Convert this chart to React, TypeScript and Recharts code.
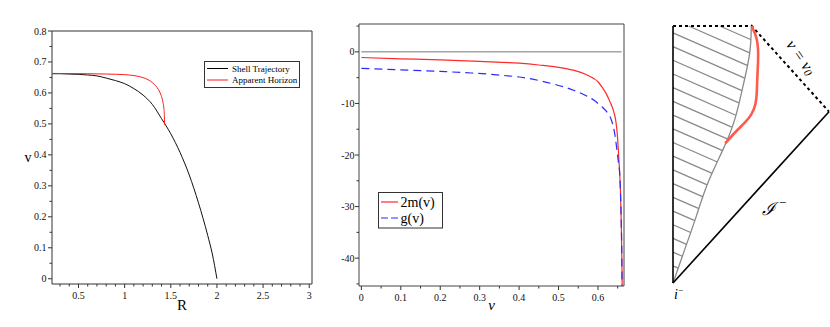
import React from "react";
import { LineChart, Line, XAxis, YAxis, ReferenceArea, ReferenceLine, ReferenceDot, Legend } from "recharts";

const SERIF = '"Liberation Serif", "Times New Roman", serif';

// left panel: shell trajectory and apparent horizon, v against R
const shellR = [0.213, 0.3, 0.4, 0.5, 0.6, 0.7, 0.8, 0.9, 1.0, 1.1, 1.2, 1.3, 1.4, 1.5, 1.6, 1.7, 1.8, 1.9, 1.95, 2.0];
const shellV = [0.662, 0.662, 0.661, 0.66, 0.658, 0.655, 0.648, 0.64, 0.63, 0.614, 0.593, 0.563, 0.517, 0.468, 0.408, 0.335, 0.245, 0.14, 0.08, 0.0];
const horizonR = [0.213, 0.6, 0.8, 1.0, 1.1, 1.17, 1.23, 1.28, 1.32, 1.35, 1.38, 1.4, 1.415, 1.425, 1.43, 1.433];
const horizonV = [0.663, 0.662, 0.661, 0.659, 0.656, 0.652, 0.646, 0.638, 0.628, 0.618, 0.603, 0.588, 0.57, 0.55, 0.53, 0.497];
const rTicks = [0.3, 0.4, 0.5, 0.6, 0.7, 0.8, 0.9, 1, 1.1, 1.2, 1.3, 1.4, 1.5, 1.6, 1.7, 1.8, 1.9, 2, 2.1, 2.2, 2.3, 2.4, 2.5, 2.6, 2.7, 2.8, 2.9, 3];
const rLabels = [0.5, 1, 1.5, 2, 2.5, 3];
const vTicks = [0, 0.05, 0.1, 0.15, 0.2, 0.25, 0.3, 0.35, 0.4, 0.45, 0.5, 0.55, 0.6, 0.65, 0.7, 0.75, 0.8];
const vLabels = [0, 0.1, 0.2, 0.3, 0.4, 0.5, 0.6, 0.7, 0.8];

// middle panel: 2m(v) and g(v)
const nuMass = [0, 0.1, 0.2, 0.3, 0.4, 0.45, 0.5, 0.54, 0.57, 0.59, 0.6, 0.61, 0.62, 0.63, 0.64, 0.645, 0.649, 0.652, 0.655, 0.657, 0.659, 0.6605, 0.6615];
const massVals = [-1.1, -1.35, -1.55, -1.85, -2.2, -2.55, -3.0, -3.6, -4.4, -5.2, -5.8, -6.8, -8.0, -9.6, -11.6, -13.3, -16, -19.5, -23.5, -27, -33, -40, -46];
const nuG = [0, 0.1, 0.2, 0.28, 0.35, 0.42, 0.48, 0.54, 0.57, 0.59, 0.6, 0.612, 0.624, 0.634, 0.639, 0.644, 0.648, 0.652, 0.655, 0.657, 0.659, 0.6605, 0.661];
const gVals = [-3.2, -3.5, -3.8, -4.1, -4.5, -5.1, -6.1, -7.5, -8.5, -9.4, -10.0, -10.8, -11.8, -13.2, -14.5, -16.6, -19, -21.5, -23.5, -27, -33, -40, -46];
const nuTicks = [0, 0.05, 0.1, 0.15, 0.2, 0.25, 0.3, 0.35, 0.4, 0.45, 0.5, 0.55, 0.6, 0.65];
const nuLabels = [0, 0.1, 0.2, 0.3, 0.4, 0.5, 0.6];
const yTicks2 = [5, 0, -5, -10, -15, -20, -25, -30, -35, -40, -45];
const yLabels2 = [0, -10, -20, -30, -40];

// right panel: Penrose diagram (null lines at 45 degrees in these units)
const shellX = [0, 0.075, 0.149, 0.224, 0.321, 0.396, 0.449, 0.492, 0.502, 0.505];
const shellY = [0, 0.195, 0.389, 0.585, 0.78, 0.955, 1.15, 1.345, 1.491, 1.5];
const ahX = [0.335, 0.396, 0.46, 0.502, 0.528, 0.537, 0.54, 0.545, 0.545, 0.534, 0.513, 0.505];
const ahY = [0.815, 0.877, 0.936, 0.984, 1.043, 1.111, 1.188, 1.287, 1.365, 1.433, 1.481, 1.5];
const hatchOffsets = [1.62, 1.54, 1.46, 1.38, 1.3, 1.22, 1.14, 1.06, 0.98, 0.9, 0.82, 0.74, 0.66, 0.58, 0.5, 0.42, 0.34, 0.26, 0.18, 0.1];
const HATCH_SLOPE = -0.4;

const shellData = shellR.map((R, i) => ({ R, v: shellV[i] }));
const horizonData = horizonR.map((R, i) => ({ R, v: horizonV[i] }));
const massData = nuMass.map((nu, i) => ({ nu, val: massVals[i] }));
const gData = nuG.map((nu, i) => ({ nu, val: gVals[i] }));
const penroseShell = shellX.map((x, i) => ({ x, y: shellY[i] }));
const penroseAH = ahX.map((x, i) => ({ x, y: ahY[i] }));

function hatchLine(y0: number) {
  const start = y0 > 1.5 ? { x: (1.5 - y0) / HATCH_SLOPE, y: 1.5 } : { x: 0, y: y0 };
  const f = (p: { x: number; y: number }) => p.y - (y0 + HATCH_SLOPE * p.x);
  for (let i = 0; i < penroseShell.length - 1; i++) {
    const a = penroseShell[i];
    const b = penroseShell[i + 1];
    const fa = f(a);
    const fb = f(b);
    if (fa <= 0 && fb > 0) {
      const t = fa / (fa - fb);
      const ex = a.x + t * (b.x - a.x);
      return [start, { x: ex, y: y0 + HATCH_SLOPE * ex }];
    }
  }
  return [start, start];
}

const isIn = (list: number[], v: number) => list.some((m) => Math.abs(m - v) < 1e-9);

function bottomTick(labels: number[]) {
  return (props: any) => {
    const { x, y, payload } = props;
    const major = isIn(labels, payload.value);
    return (
      <g>
        <line x1={x} x2={x} y1={y} y2={y + (major ? 4 : 2.5)} stroke="#333" />
        {major && (
          <text x={x} y={y + 15} textAnchor="middle" fontSize={10} fontFamily={SERIF} fill="#111">
            {String(payload.value)}
          </text>
        )}
      </g>
    );
  };
}

function leftTick(labels: number[], gap: number) {
  return (props: any) => {
    const { x, y, payload } = props;
    const major = isIn(labels, payload.value);
    return (
      <g>
        <line x1={x - (major ? 4 : 2.5)} x2={x} y1={y} y2={y} stroke="#333" />
        {major && (
          <text x={x - gap} y={y + 3.5} textAnchor="end" fontSize={10} fontFamily={SERIF} fill="#111">
            {String(payload.value)}
          </text>
        )}
      </g>
    );
  };
}

function TrajectoryLegend() {
  return (
    <svg width={96} height={27} style={{ display: "block" }}>
      <rect x={0.5} y={0.5} width={95} height={26} fill="#fff" stroke="#333" />
      <line x1={3} x2={24} y1={7.5} y2={7.5} stroke="#000" />
      <line x1={3} x2={24} y1={19} y2={19} stroke="#ff1a1a" />
      <text x={28} y={10.5} fontSize={9} fontFamily={SERIF} fill="#000">Shell Trajectory</text>
      <text x={28} y={22} fontSize={9} fontFamily={SERIF} fill="#000">Apparent Horizon</text>
    </svg>
  );
}

function HorizonLegend() {
  return (
    <svg width={65} height={37} style={{ display: "block" }}>
      <rect x={0.5} y={0.5} width={64} height={35.5} fill="#fff" stroke="#333" />
      <line x1={3} x2={20} y1={10} y2={10} stroke="#ff2a2a" strokeWidth={1.2} />
      <line x1={3} x2={20} y1={26} y2={26} stroke="#2b2bff" strokeWidth={1.2} strokeDasharray="7 3" />
      <text x={22.5} y={15} fontSize={14} fontFamily={SERIF} fill="#000">2m(v)</text>
      <text x={22.5} y={31} fontSize={14} fontFamily={SERIF} fill="#000">g(v)</text>
    </svg>
  );
}

function TrajectoryPanel() {
  return (
    <LineChart width={330} height={327} margin={{ top: 31, right: 18, bottom: 13, left: 12 }}>
      <XAxis
        type="number"
        dataKey="R"
        domain={[0.213, 3.03]}
        allowDataOverflow
        ticks={rTicks}
        interval={0}
        tickSize={0}
        tickMargin={0}
        tickLine={false}
        axisLine={false}
        height={30}
        tick={bottomTick(rLabels)}
        label={(p: any) => (
          <text x={p.viewBox.x + p.viewBox.width / 2} y={p.viewBox.y + 26} textAnchor="middle" fontSize={15} fontFamily={SERIF} fill="#000">
            R
          </text>
        )}
      />
      <YAxis
        type="number"
        domain={[-0.017, 0.8]}
        allowDataOverflow
        ticks={vTicks}
        interval={0}
        tickSize={0}
        tickMargin={0}
        tickLine={false}
        axisLine={false}
        width={40}
        tick={leftTick(vLabels, 5.5)}
        label={(p: any) => (
          <text x={p.viewBox.x + 16} y={p.viewBox.y + p.viewBox.height / 2 + 4} textAnchor="middle" fontSize={14} fontFamily={SERIF} fill="#000">
            v
          </text>
        )}
      />
      <ReferenceArea x1={0.213} x2={3.03} y1={-0.017} y2={0.8} fill="none" stroke="#333" ifOverflow="visible" />
      <Line data={shellData} dataKey="v" type="monotone" stroke="#111" strokeWidth={1} dot={false} activeDot={false} isAnimationActive={false} />
      <Line data={horizonData} dataKey="v" type="monotone" stroke="#ff1a1a" strokeWidth={1} dot={false} activeDot={false} isAnimationActive={false} />
      <Legend
        layout="vertical"
        align="center"
        verticalAlign="middle"
        content={() => <TrajectoryLegend />}
        wrapperStyle={{ left: 204, top: 61, width: 96, height: 27 }}
      />
    </LineChart>
  );
}

function HorizonPanel() {
  return (
    <LineChart width={320} height={327} margin={{ top: 24, right: 16, bottom: 11, left: 9 }}>
      <XAxis
        type="number"
        dataKey="nu"
        domain={[-0.006, 0.666]}
        allowDataOverflow
        ticks={nuTicks}
        interval={0}
        tickSize={0}
        tickMargin={0}
        tickLine={false}
        axisLine={false}
        height={30}
        tick={bottomTick(nuLabels)}
        label={(p: any) => (
          <text x={p.viewBox.x + p.viewBox.width / 2} y={p.viewBox.y + 24} textAnchor="middle" fontSize={15} fontStyle="italic" fontFamily={SERIF} fill="#000">
            ν
          </text>
        )}
      />
      <YAxis
        type="number"
        domain={[-45.4, 5.4]}
        allowDataOverflow
        ticks={yTicks2}
        interval={0}
        tickSize={0}
        tickMargin={0}
        tickLine={false}
        axisLine={false}
        width={30}
        tick={leftTick(yLabels2, 4.5)}
      />
      <ReferenceArea x1={-0.006} x2={0.666} y1={-45.4} y2={5.4} fill="none" stroke="#444" ifOverflow="visible" />
      <ReferenceLine segment={[{ x: 0, y: 0 }, { x: 0.66, y: 0 }]} stroke="#777" strokeWidth={1} />
      <Line data={massData} dataKey="val" type="monotone" stroke="#ff2a2a" strokeWidth={1.2} dot={false} activeDot={false} isAnimationActive={false} />
      <Line data={gData} dataKey="val" type="monotone" stroke="#2b2bff" strokeWidth={1.2} strokeDasharray="8 5" dot={false} activeDot={false} isAnimationActive={false} />
      <Legend
        layout="vertical"
        align="center"
        verticalAlign="middle"
        content={() => <HorizonLegend />}
        wrapperStyle={{ left: 58, top: 192, width: 65, height: 37 }}
      />
    </LineChart>
  );
}

function PenrosePanel() {
  const edge = [{ x: 0, y: 0 }, { x: 0, y: 1.5 }];
  const scri = [{ x: 0, y: 0 }, { x: 1, y: 1 }];
  const future = [{ x: 0, y: 1.5 }, { x: 0.505, y: 1.5 }, { x: 1, y: 1 }];
  return (
    <LineChart width={190} height={327} margin={{ top: 26, right: 1, bottom: 44, left: 33 }}>
      <XAxis type="number" dataKey="x" domain={[0, 1]} hide />
      <YAxis type="number" domain={[0, 1.5]} hide />
      {hatchOffsets.map((h) => (
        <Line key={`h${h}`} data={hatchLine(h)} dataKey="y" type="linear" stroke="#8a8a8a" strokeWidth={1.3} dot={false} activeDot={false} isAnimationActive={false} />
      ))}
      <Line data={penroseShell} dataKey="y" type="natural" stroke="#8a8a8a" strokeWidth={1.3} dot={false} activeDot={false} isAnimationActive={false} />
      <Line data={edge} dataKey="y" type="linear" stroke="#000" strokeWidth={1.6} dot={false} activeDot={false} isAnimationActive={false} />
      <Line data={scri} dataKey="y" type="linear" stroke="#000" strokeWidth={1.6} dot={false} activeDot={false} isAnimationActive={false} />
      <Line data={future} dataKey="y" type="linear" stroke="#000" strokeWidth={2} strokeDasharray="3 3" dot={false} activeDot={false} isAnimationActive={false} />
      <Line data={penroseAH} dataKey="y" type="natural" stroke="#ff5a4c" strokeWidth={2.6} dot={false} activeDot={false} isAnimationActive={false} />
      <ReferenceDot
        x={0.821}
        y={1.318}
        r={0}
        fill="none"
        stroke="none"
        ifOverflow="visible"
        label={(p: any) => {
          const cx = p.viewBox.x;
          const cy = p.viewBox.y;
          return (
            <text x={cx} y={cy} transform={`rotate(55 ${cx} ${cy})`} textAnchor="middle" dominantBaseline="central" fontSize={16} fontStyle="italic" fontFamily={SERIF} fill="#000">
              v = v<tspan fontSize={11} dy={3}>0</tspan>
            </text>
          );
        }}
      />
      <ReferenceDot
        x={0.615}
        y={0.434}
        r={0}
        fill="none"
        stroke="none"
        ifOverflow="visible"
        label={(p: any) => (
          <g>
            <text x={p.viewBox.x} y={p.viewBox.y + 6} textAnchor="middle" fontSize={18} fontStyle="italic" fontFamily={SERIF} fill="#000">
              ℐ
            </text>
            <text x={p.viewBox.x + 10} y={p.viewBox.y - 2} textAnchor="start" fontSize={13} fontFamily={SERIF} fill="#000">
              −
            </text>
          </g>
        )}
      />
      <ReferenceDot
        x={0.038}
        y={-0.063}
        r={0}
        fill="none"
        stroke="none"
        ifOverflow="visible"
        label={(p: any) => (
          <text x={p.viewBox.x} y={p.viewBox.y + 5} textAnchor="middle" fontSize={14} fontStyle="italic" fontFamily={SERIF} fill="#000">
            i<tspan fontSize={9} dy={-6}>−</tspan>
          </text>
        )}
      />
    </LineChart>
  );
}

export default function App() {
  return (
    <div style={{ position: "absolute", left: 0, top: 0, width: 830, height: 327, background: "#fff", overflow: "hidden" }}>
      <div style={{ position: "absolute", left: 0, top: 0 }}>
        <TrajectoryPanel />
      </div>
      <div style={{ position: "absolute", left: 320, top: 0 }}>
        <HorizonPanel />
      </div>
      <div style={{ position: "absolute", left: 640, top: 0 }}>
        <PenrosePanel />
      </div>
    </div>
  );
}
